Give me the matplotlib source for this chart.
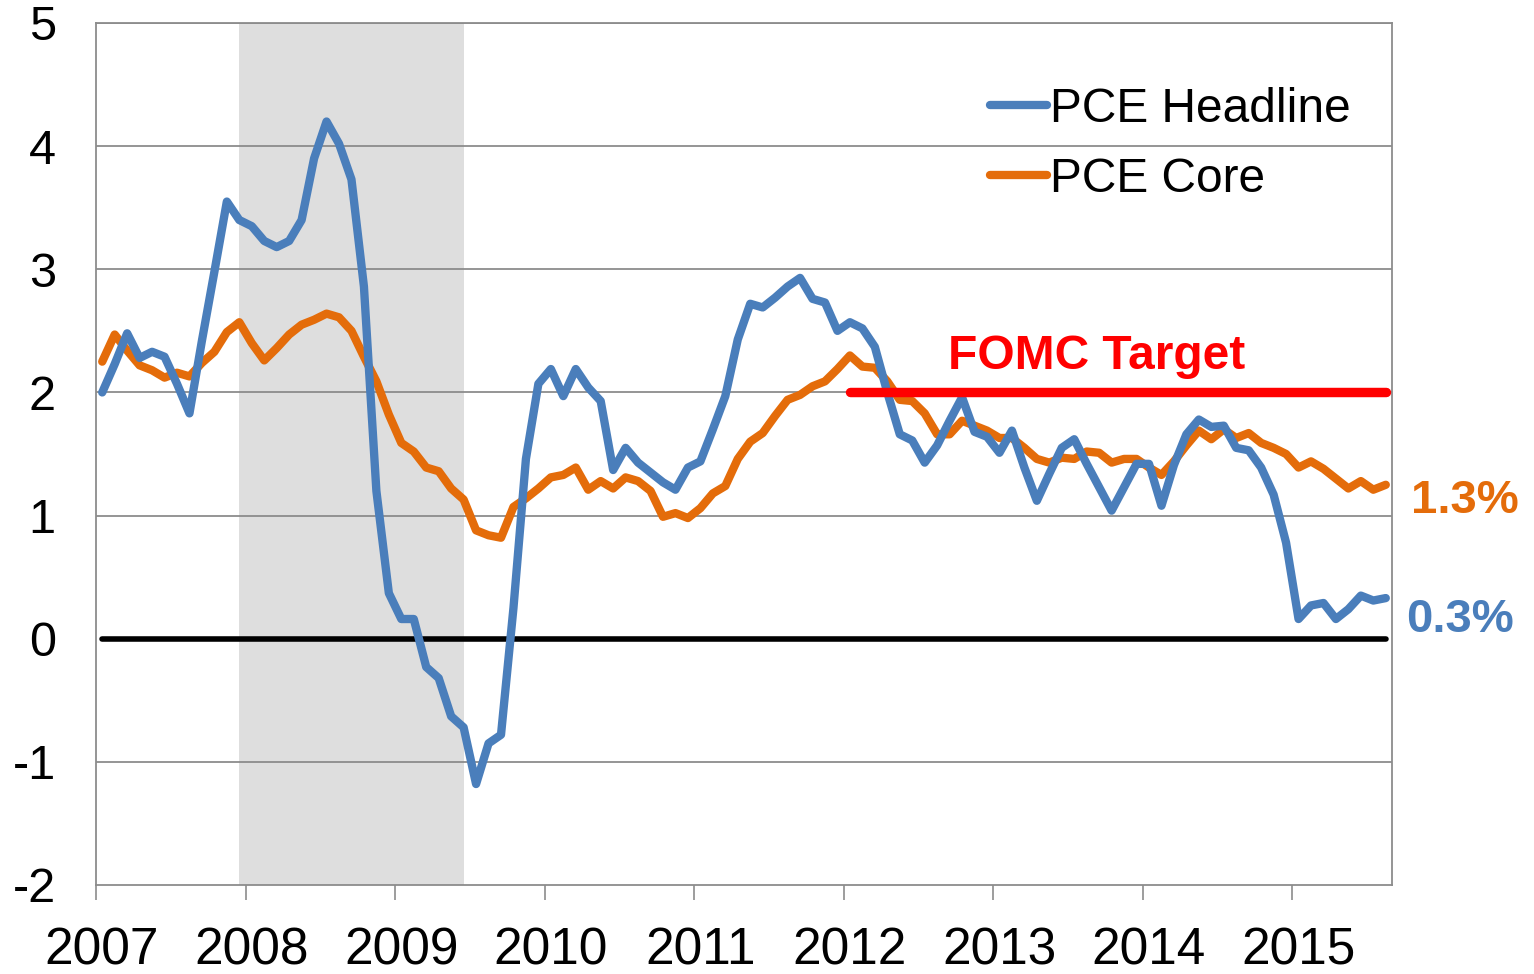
import matplotlib
matplotlib.use("Agg")
import matplotlib.pyplot as plt
import matplotlib.transforms as mtransforms
import numpy as np

plt.rcParams['font.family'] = ['Liberation Sans', 'DejaVu Sans']

# ---- data (monthly, Jan 2007 .. Aug 2015) ----
year_labels = ['2007', '2008', '2009', '2010', '2011', '2012', '2013', '2014', '2015']
y_ticks = [-2, -1, 0, 1, 2, 3, 4, 5]

pce_headline = [
    2.00, 2.23, 2.48, 2.28, 2.33, 2.29, 2.07, 1.83, 2.42, 2.98,
    3.55, 3.40, 3.35, 3.23, 3.18, 3.23, 3.40, 3.90, 4.20, 4.02,
    3.73, 2.86, 1.20, 0.37, 0.16, 0.16, -0.23, -0.32, -0.63, -0.72,
    -1.18, -0.85, -0.78, 0.25, 1.46, 2.07, 2.19, 1.97, 2.19, 2.04,
    1.93, 1.37, 1.55, 1.43, 1.35, 1.27, 1.21, 1.39, 1.44, 1.70,
    1.97, 2.43, 2.72, 2.69, 2.77, 2.86, 2.93, 2.76, 2.73, 2.50,
    2.57, 2.52, 2.37, 2.00, 1.66, 1.61, 1.43, 1.57, 1.77, 1.96,
    1.68, 1.64, 1.51, 1.69, 1.39, 1.12, 1.34, 1.55, 1.62, 1.42,
    1.23, 1.04, 1.23, 1.42, 1.42, 1.08, 1.41, 1.66, 1.78, 1.72,
    1.73, 1.55, 1.53, 1.39, 1.17, 0.78, 0.16, 0.27, 0.29, 0.16,
    0.24, 0.35, 0.31, 0.33,
]
pce_core = [
    2.25, 2.47, 2.34, 2.22, 2.18, 2.12, 2.16, 2.13, 2.24, 2.33,
    2.49, 2.57, 2.40, 2.26, 2.36, 2.47, 2.55, 2.59, 2.64, 2.61,
    2.50, 2.29, 2.09, 1.82, 1.59, 1.52, 1.39, 1.36, 1.22, 1.13,
    0.88, 0.84, 0.82, 1.07, 1.14, 1.22, 1.31, 1.33, 1.39, 1.21,
    1.28, 1.22, 1.31, 1.28, 1.20, 0.99, 1.02, 0.98, 1.06, 1.18,
    1.24, 1.46, 1.60, 1.67, 1.81, 1.94, 1.98, 2.05, 2.09, 2.19,
    2.30, 2.21, 2.20, 2.09, 1.94, 1.93, 1.83, 1.66, 1.66, 1.77,
    1.73, 1.69, 1.63, 1.63, 1.55, 1.46, 1.43, 1.47, 1.46, 1.52,
    1.51, 1.43, 1.46, 1.46, 1.39, 1.33, 1.44, 1.57, 1.69, 1.62,
    1.70, 1.63, 1.67, 1.59, 1.55, 1.50, 1.39, 1.44, 1.38, 1.30,
    1.22, 1.28, 1.21, 1.25,
]
fomc_target = 2.0
fomc_start_month = 60          # Jan 2012
recession_start_month = 11     # Dec 2007
recession_end_month = 29       # Jun 2009

n = len(pce_headline)
months = np.arange(n) + 0.5    # points centred in monthly slots

# ---- figure ----
fig = plt.figure(figsize=(15.34, 9.74), dpi=100)
ax = fig.add_axes([96/1534, 1 - 885/974, (1392-96)/1534, (885-23)/974])

grid_col = '#8c8c8c'
ax.axvspan(recession_start_month + 0.5, recession_end_month + 0.5,
           color='#dedede', zorder=0, lw=0)
for yv in y_ticks:
    if yv not in (-2, 0):
        ax.axhline(yv, color=grid_col, lw=1.3, zorder=1)

ax.plot(months, np.zeros(n), color='black', lw=4, solid_capstyle='round', zorder=2)
l1, = ax.plot(months, pce_headline, color='#4a7ebb', lw=6,
              solid_joinstyle='round', solid_capstyle='round', zorder=4,
              label='PCE Headline')
l2, = ax.plot(months, pce_core, color='#e46c0a', lw=6,
              solid_joinstyle='round', solid_capstyle='round', zorder=3,
              label='PCE Core')
fm = months[fomc_start_month:]
ax.plot(fm, np.full(len(fm), fomc_target), color='#ff0000', lw=6.8,
        solid_capstyle='round', zorder=5)

ax.set_xlim(0, 12 * len(year_labels) - 4)
ax.set_ylim(-2, 5)
ax.set_xticks(np.arange(len(year_labels)) * 12)
ax.set_xticklabels(year_labels)
ax.set_yticks(y_ticks)
ax.set_yticklabels([str(v) for v in y_ticks])

ax.tick_params(axis='x', length=11, width=1.2, color=grid_col, pad=19,
               labelsize=37, direction='out')
ax.tick_params(axis='y', length=0, pad=29, labelsize=35)
shift = mtransforms.ScaledTranslation(6 / 100, 0, fig.dpi_scale_trans)
for lbl in ax.get_xticklabels():
    lbl.set_transform(lbl.get_transform() + shift)
for s in ax.spines.values():
    s.set_color(grid_col)
    s.set_linewidth(1.3)

ax.text(80.3, 2.29, 'FOMC Target', color='#ff0000', fontsize=34.5,
        fontweight='bold', ha='center', va='center')
ax.text(105.5, 1.12, '1.3%', color='#e46c0a', fontsize=34,
        fontweight='bold', ha='left', va='center', clip_on=False)
ax.text(105.1, 0.15, '0.3%', color='#4a7ebb', fontsize=34,
        fontweight='bold', ha='left', va='center', clip_on=False)

leg = ax.legend(handles=[l1, l2], loc='upper left',
                bbox_to_anchor=((990 - 96) / 1296, (885 - 87) / 862),
                frameon=False, fontsize=34.5, handlelength=1.2,
                handletextpad=0.06, labelspacing=0.52, borderpad=0,
                borderaxespad=0)

fig.savefig('out.png', dpi=100)
